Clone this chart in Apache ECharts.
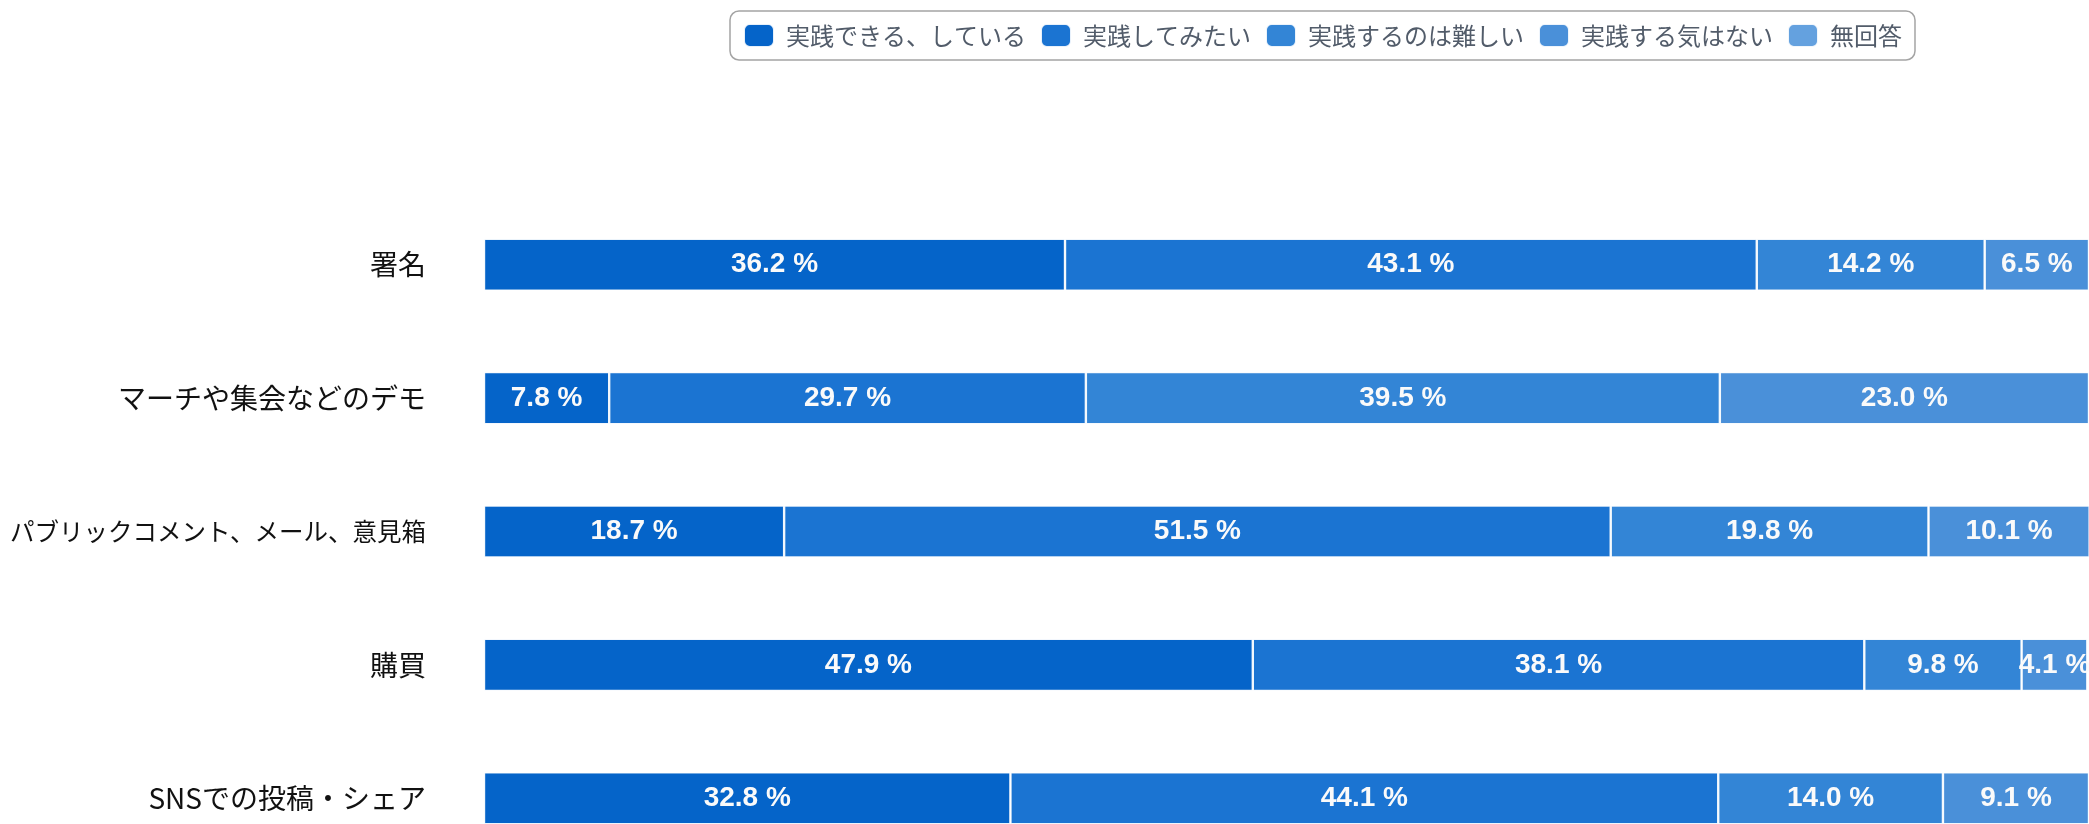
<!DOCTYPE html>
<html>
<head>
<meta charset="utf-8">
<script src="https://cdn.jsdelivr.net/npm/echarts@6/dist/echarts.min.js"></script>
<style>
html,body{margin:0;padding:0;background:#fff;}
#chart{width:2089px;height:824px;}
</style>
</head>
<body>
<div id="chart"></div>
<script>
var categories = ["署名", "マーチや集会などのデモ", "パブリックコメント、メール、意見箱", "購買", "SNSでの投稿・シェア"];
var seriesNames = ["実践できる、している", "実践してみたい", "実践するのは難しい", "実践する気はない", "無回答"];
var doingNow = [36.2, 7.8, 18.7, 47.9, 32.8];
var wantToTry = [43.1, 29.7, 51.5, 38.1, 44.1];
var difficult = [14.2, 39.5, 19.8, 9.8, 14.0];
var noIntention = [6.5, 23.0, 10.1, 4.1, 9.1];
var noAnswer = [0, 0, 0, 0, 0];
var colors = ["#0564c9", "#1b74d2", "#3385d6", "#4a90d9", "#64a1df"];

var chart = echarts.init(document.getElementById("chart"));

var values = [doingNow, wantToTry, difficult, noIntention, noAnswer];
var series = [];
for (var i = 0; i < seriesNames.length; i++) {
	series.push({
		name: seriesNames[i],
		type: "bar",
		stack: "total",
		barWidth: 52,
		data: values[i],
		itemStyle: { color: colors[i], borderColor: "rgba(255,255,255,0.9)", borderWidth: 1.2 },
		label: {
			show: true,
			position: "inside",
			color: "#fafafa",
			fontFamily: "Liberation Sans",
			fontWeight: "bold",
			fontSize: 28,
			formatter: function (p) {
				return p.value > 0 ? p.value.toFixed(1) + " %" : "";
			}
		}
	});
}

chart.setOption({
	animation: false,
	backgroundColor: "#fff",
	legend: {
		left: 730,
		top: 11,
		padding: [12, 13],
		itemGap: 14,
		itemWidth: 30,
		itemHeight: 23,
		icon: "roundRect",
		borderColor: "#a4a4a4",
		borderWidth: 1.5,
		borderRadius: 9,
		textStyle: { fontFamily: "Noto Sans CJK JP", fontSize: 24, color: "#525c6a", padding: [0, 0, 0, 7] },
		data: seriesNames
	},
	grid: { left: 484, right: 0, top: 198, bottom: -41, outerBoundsMode: "none" },
	xAxis: {
		type: "value",
		min: 0,
		max: 100,
		show: false
	},
	yAxis: {
		type: "category",
		inverse: true,
		data: categories,
		axisLine: { show: false },
		axisTick: { show: false },
		axisLabel: {
			margin: 58,
			color: "#111",
			fontFamily: "Noto Sans CJK JP",
			fontSize: 28,
			formatter: function (v) {
				return v.length > 12 ? "{sm|" + v + "}" : v;
			},
			rich: {
				sm: { fontFamily: "Noto Sans CJK JP", fontSize: 24.5, color: "#111" }
			}
		}
	},
	series: series
});
</script>
</body>
</html>
